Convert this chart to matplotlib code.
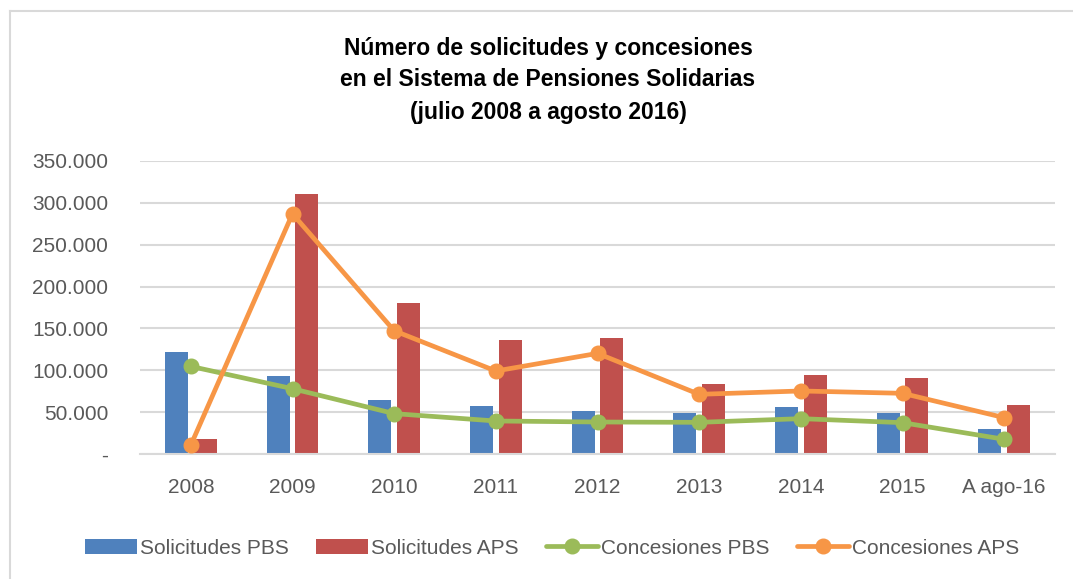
import matplotlib
matplotlib.use("Agg")
import matplotlib.pyplot as plt
from matplotlib.lines import Line2D
from matplotlib.ticker import FuncFormatter
import numpy as np

plt.rcParams['font.family'] = ['Liberation Sans', 'DejaVu Sans']

categories = ["2008", "2009", "2010", "2011", "2012", "2013", "2014", "2015", "A ago-16"]
solicitudes_pbs = [122000, 93500, 64700, 57600, 52000, 49200, 56400, 48800, 29800]
solicitudes_aps = [18300, 309800, 179900, 135800, 138200, 83800, 94100, 90900, 58800]
concesiones_pbs = [104800, 78200, 48500, 39700, 38500, 38100, 42500, 37700, 17900]
concesiones_aps = [11000, 286700, 147300, 99300, 120300, 71500, 75500, 72700, 43700]

title_lines = ["Número de solicitudes y concesiones",
               "en el Sistema de Pensiones Solidarias",
               "(julio 2008 a agosto 2016)"]

C_BLUE = "#4F81BD"
C_RED = "#C0504D"
C_GREEN = "#9BBB59"
C_ORANGE = "#F79646"
C_GRID = "#D9D9D9"
C_TEXT = "#595959"

W, H = 1073, 579
fig = plt.figure(figsize=(W / 100, H / 100), dpi=100)
fig.patch.set_facecolor("white")

ax = fig.add_axes([140 / W, (H - 454.3) / H, (1055 - 140) / W, (454.3 - 160.7) / H])

x = np.arange(len(categories))
bw = 0.226
off = 0.14
b1 = ax.bar(x - off, solicitudes_pbs, width=bw, color=C_BLUE, label="Solicitudes PBS", zorder=2)
b2 = ax.bar(x + off, solicitudes_aps, width=bw, color=C_RED, label="Solicitudes APS", zorder=2)
l1, = ax.plot(x, concesiones_pbs, color=C_GREEN, lw=3.4, marker="o", ms=10.5,
              label="Concesiones PBS", zorder=3, solid_capstyle="round")
l2, = ax.plot(x, concesiones_aps, color=C_ORANGE, lw=3.4, marker="o", ms=10.5,
              label="Concesiones APS", zorder=4, solid_capstyle="round")

ax.set_xlim(-0.5, len(categories) - 0.5)
ax.set_ylim(0, 350000)
ax.set_yticks(np.arange(0, 350001, 50000))
ax.yaxis.set_major_formatter(FuncFormatter(
    lambda v, p: "-" if v == 0 else f"{int(v):,}".replace(",", ".")))
ax.set_xticks(x)
ax.set_xticklabels(categories)

ax.grid(axis="y", color=C_GRID, lw=1.5, zorder=0)
ax.set_axisbelow(True)
for s in ["top", "right", "left"]:
    ax.spines[s].set_visible(False)
ax.spines["bottom"].set_color(C_GRID)
ax.spines["bottom"].set_linewidth(1.5)
ax.tick_params(axis="both", length=0, labelsize=15, labelcolor=C_TEXT)
ax.tick_params(axis="y", pad=23)
ax.tick_params(axis="x", pad=17)

for i, (line, yc) in enumerate(zip(title_lines, [48, 80, 113])):
    fig.text(548 / W, 1 - yc / H, line, ha="center", va="center", fontsize=16.5,
             fontweight="bold", color="black")

handles = [b1, b2, l1, l2]
labels = [h.get_label() for h in handles]
leg = fig.legend(handles, labels, loc="center", bbox_to_anchor=(552 / W, 1 - 548 / H),
                 ncol=4, frameon=False, fontsize=15, handlelength=2.5,
                 handletextpad=0.15, columnspacing=1.3, labelcolor=C_TEXT)

# chart border
fig.add_artist(Line2D([10 / W, 10 / W], [0, 1 - 11 / H], color=C_GRID, lw=1.5))
fig.add_artist(Line2D([10 / W, 1], [1 - 11 / H, 1 - 11 / H], color=C_GRID, lw=1.5))

fig.savefig("out.png", dpi=100)
